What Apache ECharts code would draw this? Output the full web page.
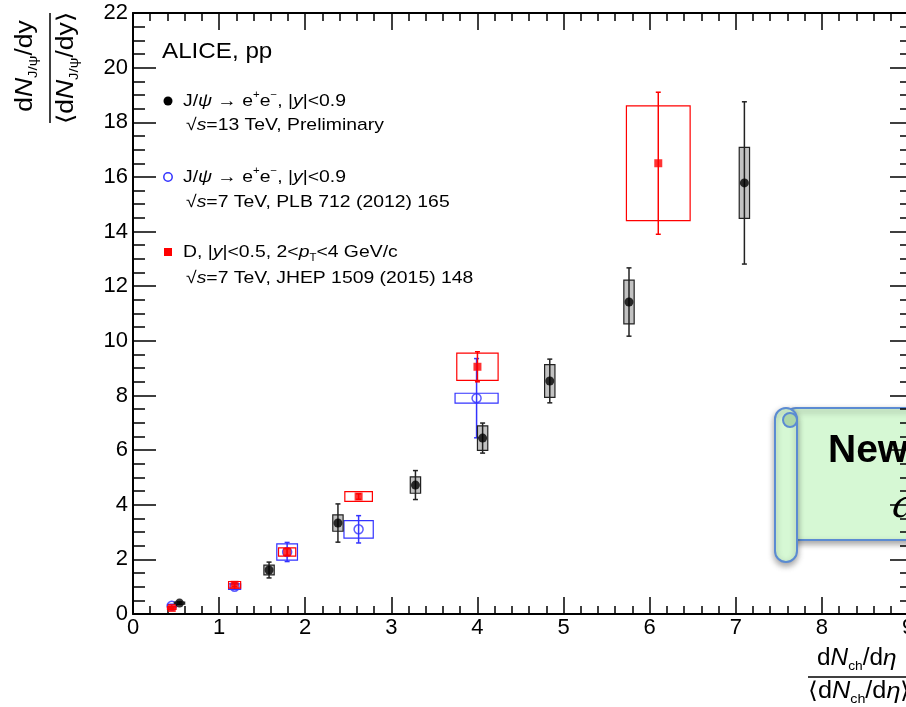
<!DOCTYPE html>
<html>
<head>
<meta charset="utf-8">
<script src="https://cdn.jsdelivr.net/npm/echarts@6/dist/echarts.min.js"></script>
<style>
  html, body { margin: 0; padding: 0; background: #fff; }
  #chart { width: 906px; height: 707px; }
</style>
</head>
<body>
<div id="chart"></div>
<script>
// J/psi, 13 TeV (preliminary), black
var x13 = [0.54, 1.58, 2.38, 3.28, 4.06, 4.84, 5.76, 7.10];
var y13 = [0.40, 1.61, 3.33, 4.72, 6.44, 8.53, 11.42, 15.78];
var stat13 = [0.04, 0.29, 0.70, 0.53, 0.55, 0.80, 1.25, 2.97];
var syst13 = [0.04, 0.18, 0.30, 0.30, 0.45, 0.60, 0.80, 1.30];
var box13 = [0.06, 0.06, 0.06, 0.06, 0.06, 0.06, 0.06, 0.06];

// J/psi, 7 TeV (PLB 712), blue
var x7 = [0.45, 1.18, 1.79, 2.62, 3.99];
var y7 = [0.30, 1.00, 2.27, 3.10, 7.90];
var stat7 = [0.05, 0.10, 0.35, 0.50, 1.45];
var syst7 = [0.05, 0.10, 0.30, 0.32, 0.18];
var box7 = [0.05, 0.07, 0.12, 0.17, 0.25];

// D mesons, 7 TeV (JHEP 1509), red
var xD = [0.45, 1.18, 1.79, 2.62, 4.00, 6.10];
var yD = [0.22, 1.07, 2.27, 4.30, 9.05, 16.50];
var statD = [0.03, 0.06, 0.12, 0.10, 0.55, 2.60];
var systD = [0.05, 0.12, 0.15, 0.18, 0.50, 2.10];
var boxD = [0.05, 0.07, 0.10, 0.16, 0.24, 0.37];

var xTicks = { min: 0, max: 9, interval: 1 };
var yTicks = { min: 0, max: 22, interval: 2 };

var FONT = 'Liberation Sans, Arial, Helvetica, sans-serif';
var BLUE = '#3333ff', RED = '#ff0000', BLACK = '#000000';

function rows(xs, ys, st, sy, bw) {
    return xs.map(function (v, i) { return [v, ys[i], st[i], sy[i], bw[i]]; });
}
function points(xs, ys) {
    return xs.map(function (v, i) { return [v, ys[i]]; });
}

function errRender(color, fill) {
    return function (params, api) {
        var x = api.value(0), y = api.value(1);
        var st = api.value(2), sy = api.value(3), bw = api.value(4);
        var c = api.coord([x, y]);
        var hi = api.coord([x, y + st]);
        var lo = api.coord([x, y - st]);
        var b0 = api.coord([x - bw, y + sy]);
        var b1 = api.coord([x + bw, y - sy]);
        var cap = 2.5;
        return {
            type: 'group',
            children: [
                { type: 'rect', shape: { x: b0[0], y: b0[1], width: b1[0] - b0[0], height: b1[1] - b0[1] },
                  style: { fill: fill, stroke: color, lineWidth: 1.2 } },
                { type: 'line', shape: { x1: c[0], y1: hi[1], x2: c[0], y2: lo[1] },
                  style: { stroke: color, lineWidth: 1.5 } },
                { type: 'line', shape: { x1: c[0] - cap, y1: hi[1], x2: c[0] + cap, y2: hi[1] },
                  style: { stroke: color, lineWidth: 1.5 } },
                { type: 'line', shape: { x1: c[0] - cap, y1: lo[1], x2: c[0] + cap, y2: lo[1] },
                  style: { stroke: color, lineWidth: 1.5 } }
            ]
        };
    };
}

function xAxisDef(pos, labels) {
    return {
        type: 'value', position: pos, min: xTicks.min, max: xTicks.max, interval: xTicks.interval,
        axisLine: { show: true, onZero: false, lineStyle: { color: BLACK, width: 2 } },
        axisTick: { show: true, inside: true, length: 17, lineStyle: { color: BLACK, width: 1.5 } },
        minorTick: { show: true, splitNumber: 5, length: 8, lineStyle: { color: BLACK, width: 1.5 } },
        axisLabel: { show: labels, color: BLACK, fontSize: 22, fontFamily: FONT, margin: 3 },
        splitLine: { show: false }
    };
}
function yAxisDef(pos, labels, major, minor) {
    return {
        type: 'value', position: pos, min: yTicks.min, max: yTicks.max, interval: yTicks.interval,
        axisLine: { show: true, onZero: false, lineStyle: { color: BLACK, width: 2 } },
        axisTick: { show: true, inside: true, length: major, lineStyle: { color: BLACK, width: 1.5 } },
        minorTick: { show: true, splitNumber: 4, length: minor, lineStyle: { color: BLACK, width: 1.5 } },
        axisLabel: { show: labels, color: BLACK, fontSize: 22, fontFamily: FONT, margin: 5 },
        splitLine: { show: false }
    };
}

var subRich = {
    it: { fontStyle: 'italic', fontSize: 23, fontFamily: FONT, lineHeight: 28 },
    sub: { fontSize: 13, fontFamily: FONT, lineHeight: 12, verticalAlign: 'bottom' }
};
var legRich = {
    i: { fontStyle: 'italic', fontSize: 17, fontFamily: FONT, lineHeight: 22 },
    sup: { fontSize: 10, fontFamily: FONT, lineHeight: 10, verticalAlign: 'top' },
    sub: { fontSize: 10, fontFamily: FONT, lineHeight: 10, verticalAlign: 'bottom' }
};
function legText(x, y, txt) {
    return { type: 'text', x: x, y: y, scaleX: 1.14, silent: true,
        style: { text: txt, fontSize: 17, fontFamily: FONT, fill: BLACK, lineHeight: 22,
                 align: 'left', verticalAlign: 'middle', rich: legRich } };
}
function titleText(x, y, txt, rot, sx, align) {
    return { type: 'text', x: x, y: y, rotation: rot, scaleX: sx, silent: true,
        style: { text: txt, fontSize: 23, fontFamily: FONT, fill: BLACK, lineHeight: 28,
                 align: align, verticalAlign: 'middle', rich: subRich } };
}

var scrollStyle = { fill: '#d6f8d4', stroke: '#5b8bd2', lineWidth: 2 };

var chart = echarts.init(document.getElementById('chart'), null, { renderer: 'canvas' });

chart.setOption({
    animation: false,
    backgroundColor: '#ffffff',
    grid: { left: 133, right: -2, top: 13, bottom: 93, outerBoundsMode: 'none', containLabel: false },
    xAxis: [xAxisDef('bottom', true), xAxisDef('top', false)],
    yAxis: [yAxisDef('left', true, 23, 12), yAxisDef('right', false, 18, 8)],
    series: [
        { type: 'custom', name: 'jpsi7box', renderItem: errRender(BLUE, 'rgba(0,0,0,0)'),
          data: rows(x7, y7, stat7, syst7, box7), encode: { x: 0, y: 1 }, z: 2 },
        { type: 'scatter', name: 'jpsi7', data: points(x7, y7), symbol: 'circle', symbolSize: 9,
          itemStyle: { color: 'rgba(0,0,0,0)', borderColor: BLUE, borderWidth: 1.5 }, z: 3 },
        { type: 'custom', name: 'jpsi13box', renderItem: errRender('#222222', 'rgba(120,120,120,0.45)'),
          data: rows(x13, y13, stat13, syst13, box13), encode: { x: 0, y: 1 }, z: 4 },
        { type: 'scatter', name: 'jpsi13', data: points(x13, y13), symbol: 'circle', symbolSize: 9,
          itemStyle: { color: BLACK }, z: 5 },
        { type: 'custom', name: 'Dbox', renderItem: errRender(RED, 'rgba(0,0,0,0)'),
          data: rows(xD, yD, statD, systD, boxD), encode: { x: 0, y: 1 }, z: 6 },
        { type: 'scatter', name: 'D', data: points(xD, yD), symbol: 'rect', symbolSize: 8,
          itemStyle: { color: RED }, z: 7 }
    ],
    graphic: [
        // y axis title
        titleText(26, 66, 'd{it|N}{sub|J/ψ}/dy', Math.PI / 2, 1.15, 'center'),
        { type: 'line', shape: { x1: 50, y1: 13, x2: 50, y2: 123 }, style: { stroke: BLACK, lineWidth: 1.5 } },
        titleText(67, 68, '⟨d{it|N}{sub|J/ψ}/dy⟩', Math.PI / 2, 1.15, 'center'),
        // x axis title
        titleText(817, 659, 'd{it|N}{sub|ch}/d{it|η}', 0, 1.06, 'left'),
        { type: 'line', shape: { x1: 808, y1: 677, x2: 920, y2: 677 }, style: { stroke: BLACK, lineWidth: 1.5 } },
        titleText(808, 692, '⟨d{it|N}{sub|ch}/d{it|η}⟩', 0, 1.1, 'left'),
        // header and legend
        { type: 'text', x: 162, y: 52, scaleX: 1.1, silent: true,
          style: { text: 'ALICE, pp', fontSize: 22, fontFamily: FONT, fill: BLACK, align: 'left', verticalAlign: 'middle' } },
        { type: 'circle', shape: { cx: 168, cy: 101, r: 4.5 }, style: { fill: BLACK } },
        legText(183, 101, 'J/{i|ψ} → e{sup|+}e{sup|−}, |{i|y}|<0.9'),
        legText(186, 125, '√{i|s}=13 TeV, Preliminary'),
        { type: 'circle', shape: { cx: 168, cy: 177, r: 4.2 }, style: { fill: 'none', stroke: BLUE, lineWidth: 1.5 } },
        legText(183, 177, 'J/{i|ψ} → e{sup|+}e{sup|−}, |{i|y}|<0.9'),
        legText(186, 202, '√{i|s}=7 TeV, PLB 712 (2012) 165'),
        { type: 'rect', shape: { x: 164, y: 248, width: 8, height: 8 }, style: { fill: RED } },
        legText(183, 252, 'D, |{i|y}|<0.5, 2<{i|p}{sub|T}<4 GeV/c'),
        legText(186, 278, '√{i|s}=7 TeV, JHEP 1509 (2015) 148'),
        // green scroll callout
        { type: 'rect', shape: { x: 786, y: 408, width: 140, height: 132, r: [10, 0, 0, 0] },
          style: Object.assign({ shadowBlur: 6, shadowOffsetY: 3, shadowColor: 'rgba(0,0,0,0.35)' }, scrollStyle) },
        { type: 'rect', shape: { x: 775, y: 408, width: 22, height: 154, r: 11 },
          style: Object.assign({ shadowBlur: 6, shadowOffsetY: 3, shadowColor: 'rgba(0,0,0,0.35)' }, scrollStyle) },
        { type: 'circle', shape: { cx: 790, cy: 420, r: 7 }, style: { fill: '#acd6aa', stroke: '#5b8bd2', lineWidth: 2 } },
        { type: 'text', x: 828, y: 451, silent: true,
          style: { text: 'New', fontSize: 39, fontWeight: 'bold', fontFamily: 'Liberation Sans Narrow, Liberation Sans, sans-serif',
                   fill: BLACK, align: 'left', verticalAlign: 'middle' } },
        { type: 'text', x: 892, y: 507, silent: true,
          style: { text: 'a', fontSize: 40, fontStyle: 'italic', fontFamily: 'DejaVu Serif, serif',
                   fill: BLACK, align: 'left', verticalAlign: 'middle' } }
    ]
});
window.addEventListener('resize', function () { chart.resize(); });
</script>
</body>
</html>
